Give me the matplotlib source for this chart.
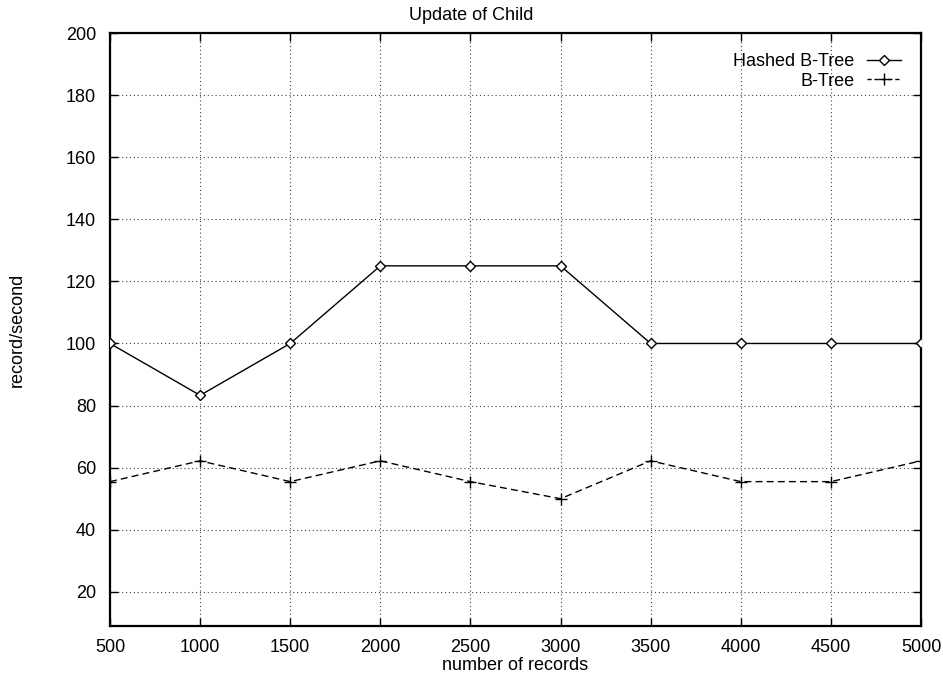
import matplotlib
matplotlib.use("Agg")
import matplotlib.pyplot as plt
from matplotlib.lines import Line2D

records = [500, 1000, 1500, 2000, 2500, 3000, 3500, 4000, 4500, 5000]
hashed_btree = [100, 83.3, 100, 125, 125, 125, 100, 100, 100, 100]
btree = [55.5, 62.2, 55.5, 62.2, 55.5, 50, 62.2, 55.5, 55.5, 62.2]
yticks = [20, 40, 60, 80, 100, 120, 140, 160, 180, 200]

plt.rcParams['font.family'] = ['Liberation Sans', 'DejaVu Sans']
plt.rcParams['font.size'] = 13

fig = plt.figure(figsize=(9.43, 6.75), dpi=100)
ax = fig.add_axes([110/943, 49/675, (921-110)/943, (626-33)/675])

ax.plot(records, hashed_btree, color='black', lw=1.0, marker='D', markersize=5.5,
        markerfacecolor='white', markeredgecolor='black', markeredgewidth=1.0, zorder=3)
ax.plot(records, btree, color='black', lw=1.0, linestyle=(0, (5, 3)), marker='+',
        markersize=8, markeredgewidth=1.0, zorder=3)

ax.set_xlim(500, 5000)
ax.set_ylim(9, 200)
ax.set_xticks(records)
ax.set_yticks(yticks)
ax.tick_params(direction='in', length=6, width=1, top=True, right=True, pad=9)
ax.tick_params(axis='y', pad=10)
ax.grid(True, color='#444444', linestyle=(0, (1, 2.5)), lw=0.8)
for s in ax.spines.values():
    s.set_linewidth(1.6)

fig.text(471/943, 1 - 15/675, 'Update of Child', ha='center', va='center', fontsize=13)
ax.set_xlabel('number of records', labelpad=1)
ax.set_ylabel('record/second')
ax.yaxis.set_label_coords(-0.104, 0.5)

h1 = Line2D([], [], color='black', lw=1.0, marker='D', markersize=5.5,
            markerfacecolor='white', markeredgecolor='black')
h2 = Line2D([], [], color='black', lw=1.0, linestyle=(0, (3, 2)), marker='+', markersize=8)
leg = ax.legend([h1, h2], ['Hashed B-Tree', 'B-Tree'], loc='upper right', frameon=False,
                markerfirst=False, handlelength=1.9, borderaxespad=1.1, borderpad=0,
                labelspacing=0.15, handletextpad=0.7, numpoints=1)
for t in leg.get_texts():
    t.set_ha('right')
leg._legend_box.align = 'right'

fig.savefig('out.png', dpi=100)
